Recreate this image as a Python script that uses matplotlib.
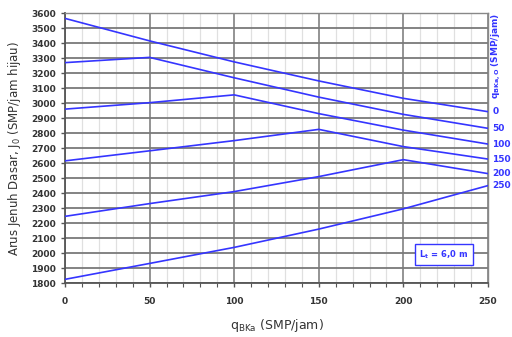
import matplotlib.pyplot as plt
import numpy as np

# q_BKa (SMP/jam)
q_bka = [0, 50, 100, 150, 200, 250]
# J0 for each q_BKa,O curve
q_bkao = ["0", "50", "100", "150", "200", "250"]
j0_0 = [3565, 3415, 3275, 3148, 3032, 2943]
j0_50 = [3270, 3305, 3169, 3040, 2925, 2832]
j0_100 = [2960, 3003, 3055, 2930, 2820, 2727]
j0_150 = [2615, 2682, 2750, 2825, 2710, 2627]
j0_200 = [2245, 2330, 2410, 2510, 2623, 2530]
j0_250 = [1825, 1931, 2038, 2160, 2295, 2450]
kurwy = [j0_0, j0_50, j0_100, j0_150, j0_200, j0_250]

niebieski = "#3535ff"

fig = plt.figure(figsize=(5.12, 3.37), dpi=100)
ax = fig.add_axes([0.127, 0.160, 0.826, 0.801])

# siatka
for xv in np.arange(0, 251, 10):
    if xv % 50 == 0:
        ax.axvline(xv, color="#777777", lw=1.1, zorder=1)
    else:
        ax.axvline(xv, color="#e0e0e0", lw=0.9, zorder=0)
for yv in np.arange(1800, 3601, 100):
    ax.axhline(yv, color="#7a7a7a", lw=1.3, zorder=1)

for etykieta, j0 in zip(q_bkao, kurwy):
    ax.plot(q_bka, j0, color=niebieski, lw=1.2, zorder=3)
    ax.text(252.5, j0[-1], etykieta, color=niebieski, fontsize=6.5,
            fontweight="bold", ha="left", va="center", clip_on=False)

ax.set_xlim(0, 250)
ax.set_ylim(1800, 3600)
ax.set_xticks(q_bka)
ax.set_xticks(np.arange(0, 251, 10), minor=True)
ax.set_yticks(np.arange(1800, 3601, 100))
ax.tick_params(axis="x", which="major", length=3, width=1, color="#555555",
               labelsize=6.5, pad=7, labelcolor="#333333")
ax.tick_params(axis="x", which="minor", length=3, width=0.8, color="#555555")
ax.tick_params(axis="y", length=3, width=1, color="#555555",
               labelsize=6.5, labelcolor="#333333")
for lab in ax.get_xticklabels() + ax.get_yticklabels():
    lab.set_fontweight("bold")
for s in ["left", "bottom"]:
    ax.spines[s].set_color("#555555")
    ax.spines[s].set_linewidth(1.3)
for s in ["right", "top"]:
    ax.spines[s].set_color("#888888")
    ax.spines[s].set_linewidth(1.0)

ax.set_xlabel("q$_{\\mathregular{BKa}}$ (SMP/jam)", fontsize=9, color="#333333", labelpad=8)
ax.set_ylabel("Arus Jenuh Dasar, J$_\\mathregular{0}$ (SMP/jam hijau)", fontsize=8.5,
              color="#333333", labelpad=6)

fig.text(0.968, 0.835, "q$_{\\mathregular{BKa,O}}$ (SMP/jam)", color=niebieski,
         fontsize=6.5, fontweight="bold", rotation=90, ha="center", va="center")

ax.text(224, 1990, "L$_\\mathregular{t}$ = 6,0 m", color=niebieski, fontsize=6,
        fontweight="bold", ha="center", va="center", zorder=4,
        bbox=dict(boxstyle="square,pad=0.5", fc="white", ec=niebieski, lw=1))

plt.savefig("out.png", dpi=100)
